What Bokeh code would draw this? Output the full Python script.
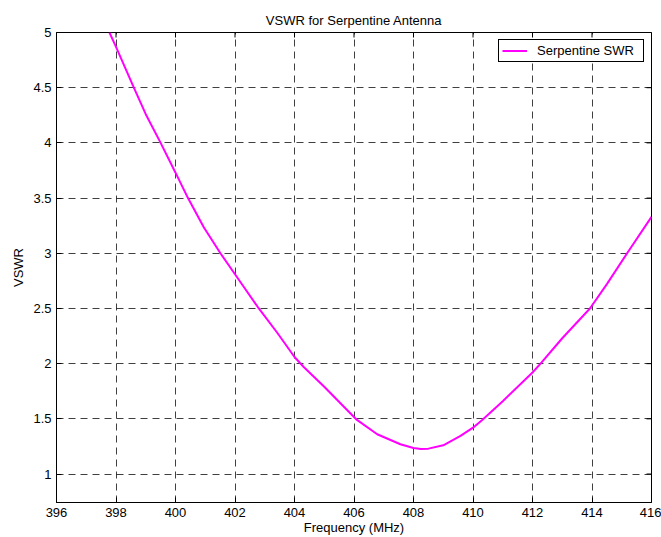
import math
from bokeh.plotting import figure
from bokeh.models import FixedTicker, Range1d, Legend, LegendItem
from bokeh.embed import file_html
from bokeh.resources import INLINE

# ---- data ----
freq_mhz = [397.78, 398.0, 398.6, 399.0, 399.5, 400.0, 400.42, 400.95, 401.51, 402.0,
            402.8, 403.42, 404.0, 404.31, 405.0, 405.66, 406.1, 406.78, 407.56, 408.0,
            408.25, 408.5, 409.0, 409.58, 410.0, 410.31, 411.0, 412.0, 412.27, 413.0,
            413.93, 414.5, 415.18, 416.0]
vswr = [5.0, 4.87, 4.5, 4.26, 4.0, 3.73, 3.5, 3.235, 3.0, 2.81,
        2.5, 2.28, 2.06, 1.97, 1.79, 1.61, 1.49, 1.36, 1.27, 1.235,
        1.226, 1.23, 1.26, 1.345, 1.42, 1.49, 1.66, 1.92, 2.0, 2.23,
        2.5, 2.72, 3.0, 3.33]
x_ticks = [396, 398, 400, 402, 404, 406, 408, 410, 412, 414, 416]
y_ticks = [1, 1.5, 2, 2.5, 3, 3.5, 4, 4.5, 5]
series_name = "Serpentine SWR"
x_min, x_max = 396, 416
y_min, y_max = 0.742, 5

FONT = "Liberation Sans"

p = figure(width=661, height=537, output_backend="svg", toolbar_location=None,
           x_range=Range1d(x_min, x_max), y_range=Range1d(y_min, y_max),
           min_border_left=56, min_border_right=10, min_border_top=32,
           min_border_bottom=35, background_fill_color="white",
           border_fill_color="white")

p.title.text = "VSWR for Serpentine Antenna"
p.title.align = "center"
p.title.text_font = FONT
p.title.text_font_size = "13px"
p.title.text_font_style = "normal"
p.title.text_color = "black"

p.outline_line_color = "black"
p.outline_line_width = 1
p.outline_line_alpha = 1

def style_axis(ax):
    ax.axis_line_color = "black"
    ax.axis_line_width = 1
    ax.major_tick_in = 5
    ax.major_tick_out = 0
    ax.minor_tick_in = 0
    ax.minor_tick_out = 0
    ax.major_tick_line_color = "black"
    ax.major_label_text_font = FONT
    ax.major_label_text_font_size = "13px"
    ax.major_label_text_color = "black"
    ax.axis_label_text_font = FONT
    ax.axis_label_text_font_size = "13px"
    ax.axis_label_text_font_style = "normal"
    ax.axis_label_text_color = "black"

xa = p.xaxis[0]
ya = p.yaxis[0]
xa.ticker = FixedTicker(ticks=x_ticks)
ya.ticker = FixedTicker(ticks=y_ticks)
style_axis(xa)
style_axis(ya)
xa.axis_label = "Frequency (MHz)"
ya.axis_label = "VSWR"
xa.major_label_standoff = 5
xa.axis_label_standoff = 0
ya.major_label_standoff = 5
ya.axis_label_standoff = 4

# MATLAB-style inward ticks on the top and right edges (clipped to the frame)
p.scatter(x_ticks, [y_max] * len(x_ticks), marker="dash", angle=math.pi / 2,
          size=10, line_color="black", line_width=1)
p.scatter([x_max] * len(y_ticks), y_ticks, marker="dash",
          size=10, line_color="black", line_width=1)

for g, t in ((p.xgrid[0], x_ticks), (p.ygrid[0], y_ticks)):
    g.ticker = FixedTicker(ticks=t)
    g.grid_line_color = "black"
    g.grid_line_alpha = 0.75
    g.grid_line_dash = "7 5"
    g.grid_line_width = 1

r = p.line(freq_mhz, vswr, line_color="#FF00FF", line_width=2)

legend = Legend(items=[LegendItem(label=series_name, renderers=[r])],
                location="top_right")
legend.label_text_font = FONT
legend.label_text_font_size = "13px"
legend.label_text_color = "black"
legend.border_line_color = "black"
legend.border_line_width = 1
legend.border_line_alpha = 1
legend.background_fill_color = "white"
legend.background_fill_alpha = 1
legend.padding = 3
legend.margin = 7
legend.glyph_width = 25
legend.glyph_height = 13
legend.label_height = 13
legend.label_width = 103
legend.label_standoff = 10
legend.spacing = 0
p.add_layout(legend, "center")

open("out.html", "w").write(file_html(p, INLINE))
